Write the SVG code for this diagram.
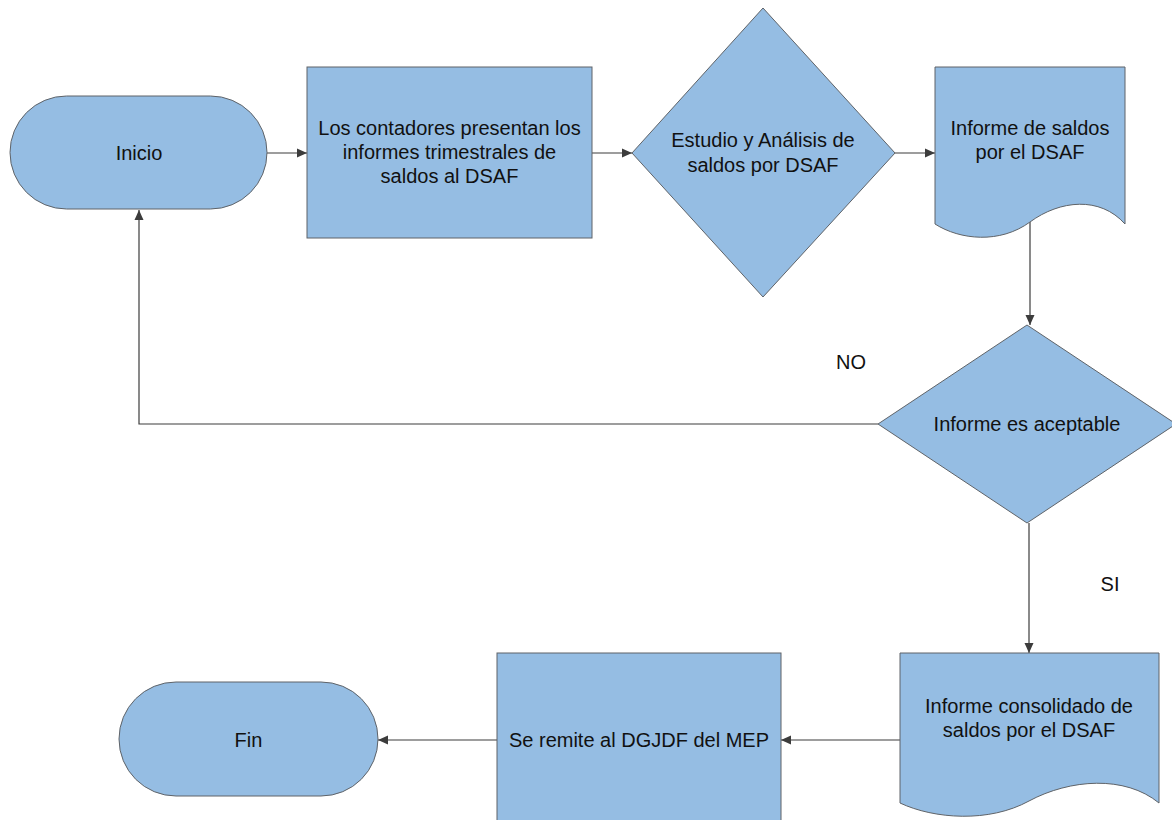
<svg xmlns="http://www.w3.org/2000/svg" width="1172" height="820" viewBox="0 0 1172 820">
<defs>
<marker id="arr" viewBox="0 0 10 10" refX="10" refY="5" markerWidth="10" markerHeight="10" markerUnits="userSpaceOnUse" orient="auto">
<path d="M0,0.5 L10,5 L0,9.5 Z" fill="#3c3c3c"/>
</marker>
<style>
.shape{fill:#95bde3;stroke:#5f6368;stroke-width:1}
.t{font-family:"Liberation Sans",Arial,sans-serif;font-size:20px;fill:#111;text-anchor:middle}
.lbl{font-family:"Liberation Sans",Arial,sans-serif;font-size:20px;fill:#111;text-anchor:middle}
.c{fill:none;stroke:#3c3c3c;stroke-width:1.2;marker-end:url(#arr)}
</style>
</defs>
<rect width="1172" height="820" fill="#ffffff"/>
<g id="connectors">
<path class="c" d="M267,153 H307"/>
<path class="c" d="M592,153 H632"/>
<path class="c" d="M895,153 H935"/>
<path class="c" d="M1030,222 V325"/>
<path class="c" d="M878,424 H139 V210"/>
<path class="c" d="M1029,523 V653"/>
<path class="c" d="M900,740 H781"/>
<path class="c" d="M497,740 H378"/>
</g>
<g id="inicio">
<rect class="shape" x="10" y="96" width="257" height="113" rx="56.5"/>
<text class="t" x="139" y="160">Inicio</text>
</g>
<g id="presentan">
<rect class="shape" x="307" y="67" width="285" height="171"/>
<text class="t" x="449.5" y="135">Los contadores presentan los</text>
<text class="t" x="449.5" y="159">informes trimestrales de</text>
<text class="t" x="449.5" y="183">saldos al DSAF</text>
</g>
<g id="estudio">
<polygon class="shape" points="763,8 895,153 763,297 632,153"/>
<text class="t" x="763" y="147">Estudio y Análisis de</text>
<text class="t" x="763" y="172">saldos por DSAF</text>
</g>
<g id="informe-saldos">
<path class="shape" d="M935,67 H1125 V224 C1100,196 1060,200 1030,222 C1000,244 960,240 935,224 Z"/>
<text class="t" x="1030" y="135">Informe de saldos</text>
<text class="t" x="1030" y="159">por el DSAF</text>
</g>
<g id="aceptable">
<polygon class="shape" points="1027,325 1176,424 1027,523 878,424"/>
<text class="t" x="1027" y="431">Informe es aceptable</text>
</g>
<g id="consolidado">
<path class="shape" d="M900,653 H1159 V803 C1125,775 1070,779 1029,801 C989,823 934,819 900,803 Z"/>
<text class="t" x="1029" y="713">Informe consolidado de</text>
<text class="t" x="1029" y="737">saldos por el DSAF</text>
</g>
<g id="remite">
<rect class="shape" x="497" y="653" width="284" height="172"/>
<text class="t" x="639" y="747">Se remite al DGJDF del MEP</text>
</g>
<g id="fin">
<rect class="shape" x="119" y="682" width="259" height="114" rx="57"/>
<text class="t" x="248.5" y="747">Fin</text>
</g>
<g id="labels">
<text class="lbl" x="851" y="369">NO</text>
<text class="lbl" x="1110" y="591">SI</text>
</g>
</svg>
